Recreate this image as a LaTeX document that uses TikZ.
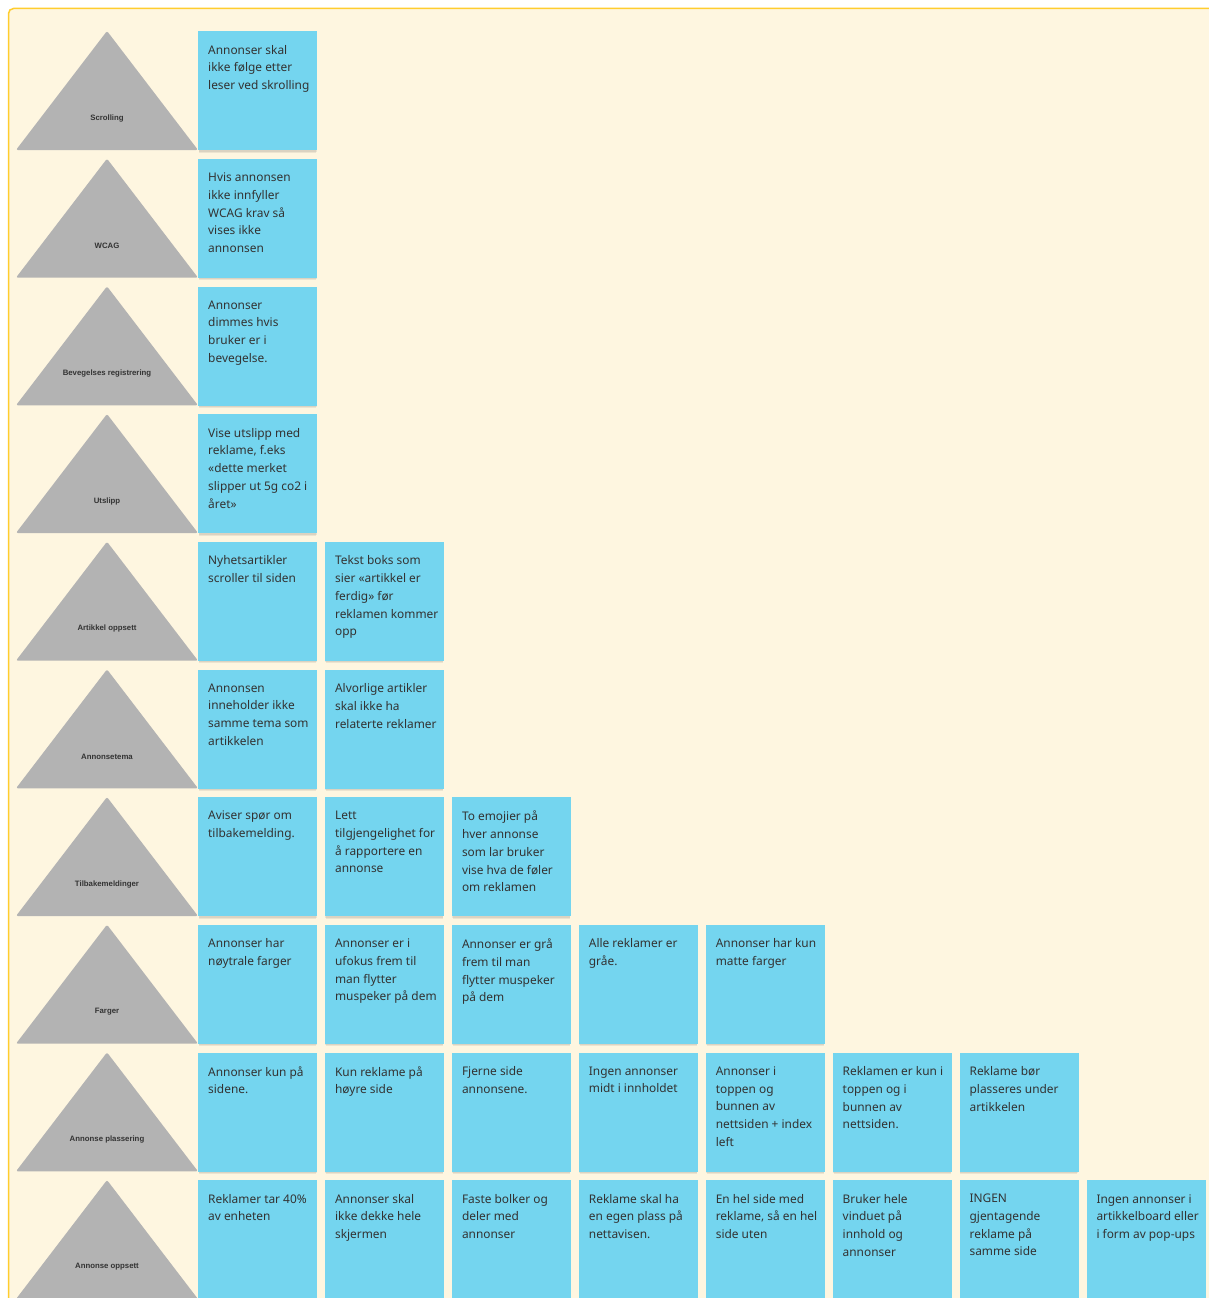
\documentclass[tikz,border=0pt]{standalone}
\usepackage{fontspec}
\setmainfont{Noto Sans}
\newfontfamily\labelfont{Liberation Sans}[BoldFont={Liberation Sans Bold}]

\definecolor{paper}{HTML}{FEF6E0}
\definecolor{frameline}{HTML}{FFCD2E}
\definecolor{notefill}{HTML}{74D5EF}
\definecolor{trifill}{HTML}{B3B3B3}
\definecolor{ink}{HTML}{333333}

\tikzset{
  stickynote/.style={fill=notefill, anchor=north west, minimum width=119pt,
    minimum height=119pt, inner sep=0pt},
  noteshadow/.style={fill=black, fill opacity=0.07},
  notetext/.style={anchor=north west, inner sep=0pt, align=left, text=ink,
    font=\fontsize{11.9}{17.7}\selectfont, execute at begin node=\strut},
  tri/.style={fill=trifill, rounded corners=2pt},
  trilabel/.style={inner sep=0pt, text=ink, font=\labelfont\fontsize{7.8}{9}\selectfont\bfseries},
}

% one sticky note with its soft bottom shadow: name, column, row, text
\newcommand\stickynote[4]{%
  \pgfmathsetmacro\notex{198+126.9*#2}%
  \pgfmathsetmacro\notey{31+127.67*#3}%
  \fill[noteshadow] (\notex+1,\notey+2) rectangle (\notex+118,\notey+121.5);
  \fill[noteshadow] (\notex+0.5,\notey+2) rectangle (\notex+118.5,\notey+120.5);
  \node[stickynote] (#1) at (\notex,\notey) {};
  \node[notetext] (#1-txt) at ([xshift=10pt,yshift=-14pt]#1.north west) {#4};
}

% one category triangle: name, row, label
\newcommand\category[3]{%
  \pgfmathsetmacro\triy{31+127.67*#2}%
  \fill[tri] (107,\triy) -- (198,\triy+119) -- (16,\triy+119) -- cycle;
  \node[trilabel] (#1) at (107,\triy+87) {#3};
}

\begin{document}
\begin{tikzpicture}[x=1pt,y=-1pt]
\useasboundingbox (0,0) rectangle (1209,1298);
\clip (0,0) rectangle (1209,1298);
\fill[white] (0,0) rectangle (1209,1298);
% board
\fill[paper, rounded corners=5pt] (8.5,8.5) rectangle (1240,1330);
\draw[frameline, line width=1.5pt, rounded corners=5pt] (8.5,1330) -- (8.5,8.5) -- (1240,8.5);

% categories
\category{scrolling}{0}{Scrolling}
\category{wcag}{1}{WCAG}
\category{bevegelse}{2}{Bevegelses registrering}
\category{utslipp}{3}{Utslipp}
\category{artikkel}{4}{Artikkel oppsett}
\category{tema}{5}{Annonsetema}
\category{tilbake}{6}{Tilbakemeldinger}
\category{farger}{7}{Farger}
\category{plassering}{8}{Annonse plassering}
\category{oppsett}{9}{Annonse oppsett}

% Scrolling
\stickynote{n00}{0}{0}{Annonser skal\\ikke følge etter\\leser ved skrolling}
% WCAG
\stickynote{n10}{0}{1}{Hvis annonsen\\ikke innfyller\\WCAG krav så\\vises ikke\\annonsen}
% Bevegelses registrering
\stickynote{n20}{0}{2}{Annonser\\dimmes hvis\\bruker er i\\bevegelse.}
% Utslipp
\stickynote{n30}{0}{3}{Vise utslipp med\\reklame, f.eks\\«dette merket\\slipper ut 5g co2 i\\året»}
% Artikkel oppsett
\stickynote{n40}{0}{4}{Nyhetsartikler\\scroller til siden}
\stickynote{n41}{1}{4}{Tekst boks som\\sier «artikkel er\\ferdig» før\\reklamen kommer\\opp}
% Annonsetema
\stickynote{n50}{0}{5}{Annonsen\\inneholder ikke\\samme tema som\\artikkelen}
\stickynote{n51}{1}{5}{Alvorlige artikler\\skal ikke ha\\relaterte reklamer}
% Tilbakemeldinger
\stickynote{n60}{0}{6}{Aviser spør om\\tilbakemelding.}
\stickynote{n61}{1}{6}{Lett\\tilgjengelighet for\\å rapportere en\\annonse}
\stickynote{n62}{2}{6}{To emojier på\\hver annonse\\som lar bruker\\vise hva de føler\\om reklamen}
% Farger
\stickynote{n70}{0}{7}{Annonser har\\nøytrale farger}
\stickynote{n71}{1}{7}{Annonser er i\\ufokus frem til\\man flytter\\muspeker på dem}
\stickynote{n72}{2}{7}{Annonser er grå\\frem til man\\flytter muspeker\\på dem}
\stickynote{n73}{3}{7}{Alle reklamer er\\gråe.}
\stickynote{n74}{4}{7}{Annonser har kun\\matte farger}
% Annonse plassering
\stickynote{n80}{0}{8}{Annonser kun på\\sidene.}
\stickynote{n81}{1}{8}{Kun reklame på\\høyre side}
\stickynote{n82}{2}{8}{Fjerne side\\annonsene.}
\stickynote{n83}{3}{8}{Ingen annonser\\midt i innholdet}
\stickynote{n84}{4}{8}{Annonser i\\toppen og\\bunnen av\\nettsiden + index\\left}
\stickynote{n85}{5}{8}{Reklamen er kun i\\toppen og i\\bunnen av\\nettsiden.}
\stickynote{n86}{6}{8}{Reklame bør\\plasseres under\\artikkelen}
% Annonse oppsett
\stickynote{n90}{0}{9}{Reklamer tar 40\%\\av enheten}
\stickynote{n91}{1}{9}{Annonser skal\\ikke dekke hele\\skjermen}
\stickynote{n92}{2}{9}{Faste bolker og\\deler med\\annonser}
\stickynote{n93}{3}{9}{Reklame skal ha\\en egen plass på\\nettavisen.}
\stickynote{n94}{4}{9}{En hel side med\\reklame, så en hel\\side uten}
\stickynote{n95}{5}{9}{Bruker hele\\vinduet på\\innhold og\\annonser}
\stickynote{n96}{6}{9}{INGEN\\gjentagende\\reklame på\\samme side}
\stickynote{n97}{7}{9}{Ingen annonser i\\artikkelboard eller\\i form av pop-ups}
\end{tikzpicture}
\end{document}
